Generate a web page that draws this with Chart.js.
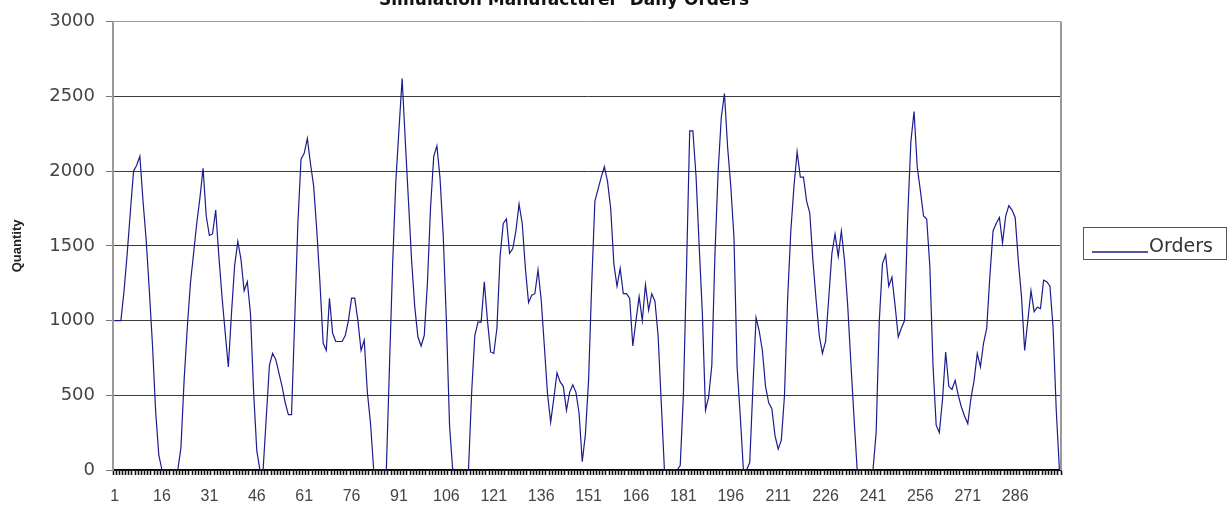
<!DOCTYPE html>
<html>
<head>
<meta charset="utf-8">
<script src="https://cdn.jsdelivr.net/npm/chart.js@4.4.1/dist/chart.umd.min.js"></script>
<style>
  html, body { margin: 0; padding: 0; background: #fff; }
  canvas { display: block; }
</style>
</head>
<body>
<canvas id="ch_orders" width="1231" height="506"></canvas>
<script>
// Daily orders, days 1..300
const orders = [
  1000, 1000, 1000, 1200, 1450, 1730, 2000, 2040, 2100, 1800,
  1540, 1200, 835, 390, 100, 0, 0, 0, 0, 0,
  0, 150, 600, 950, 1250, 1450, 1650, 1820, 2020, 1700,
  1570, 1580, 1740, 1430, 1160, 920, 690, 1050, 1370, 1530,
  1410, 1200, 1260, 1050, 520, 130, 0, 0, 350, 700,
  780, 740, 650, 560, 450, 370, 370, 1000, 1650, 2080,
  2120, 2220, 2050, 1900, 1600, 1250, 850, 800, 1150, 915,
  860, 860, 860, 900, 1000, 1150, 1150, 1000, 800, 870,
  520, 310, 0, 0, 0, 0, 0, 700, 1380, 1930,
  2280, 2620, 2200, 1800, 1400, 1090, 890, 830, 900, 1250,
  1760, 2100, 2170, 1950, 1570, 1000, 300, 0, 0, 0,
  0, 0, 0, 520, 900, 990, 990, 1260, 1000, 790,
  780, 950, 1430, 1650, 1680, 1450, 1480, 1600, 1780, 1650,
  1350, 1120, 1170, 1180, 1340, 1140, 830, 510, 320, 480,
  650, 590, 560, 400, 520, 570, 520, 380, 55, 240,
  600, 1250, 1800, 1880, 1960, 2030, 1930, 1750, 1380, 1230,
  1350, 1180, 1180, 1150, 830, 1000, 1160, 1000, 1240, 1070,
  1180, 1130, 900, 450, 0, 0, 0, 0, 0, 30,
  500, 1350, 2270, 2270, 1970, 1500, 1050, 400, 490, 700,
  1450, 2000, 2360, 2520, 2160, 1900, 1560, 690, 360, 0,
  0, 50, 550, 1020, 930, 800, 560, 450, 410, 230,
  140, 200, 500, 1150, 1600, 1900, 2130, 1960, 1960, 1800,
  1720, 1400, 1140, 900, 780, 860, 1150, 1450, 1580, 1430,
  1600, 1400, 1100, 720, 350, 0, 0, 0, 0, 0,
  0, 250, 1000, 1380, 1440, 1230, 1290, 1100, 890, 950,
  1000, 1700, 2200, 2400, 2030, 1870, 1700, 1680, 1360, 700,
  300, 250, 470, 790, 560, 540, 600, 500, 420, 360,
  310, 480, 600, 780, 690, 850, 950, 1300, 1600, 1650,
  1690, 1520, 1700, 1770, 1740, 1690, 1400, 1160, 800, 1000,
  1200, 1060, 1090, 1080, 1270, 1260, 1230, 950, 400, 0
];
const days = orders.map((_, i) => String(i + 1));
const tickLabels = ['1', '16', '31', '46', '61', '76', '91', '106', '121', '136',
  '151', '166', '181', '196', '211', '226', '241', '256', '271', '286'];
const yTicks = [0, 500, 1000, 1500, 2000, 2500, 3000];

const titleText = 'Simulation Manufacturer  Daily Orders';
const seriesName = 'Orders';
const lineColor = '#1c1c8e';

/* ── title, legend box and right frame drawn on top ─────────────── */
const decor = {
  id: 'decor',
  afterDraw(chart) {
    const { ctx, chartArea: a } = chart;
    ctx.save();
    // right border of plot area
    ctx.strokeStyle = '#9a9a9a';
    ctx.lineWidth = 2;
    ctx.beginPath();
    ctx.moveTo(a.right, a.top);
    ctx.lineTo(a.right, a.bottom);
    ctx.stroke();

    // title (top half is cut off in the original)
    ctx.fillStyle = '#111';
    ctx.font = 'bold 17px "DejaVu Sans"';
    ctx.textAlign = 'center';
    ctx.textBaseline = 'alphabetic';
    ctx.fillText(titleText, 564, 5);

    // legend
    ctx.strokeStyle = '#555';
    ctx.lineWidth = 1;
    ctx.strokeRect(1083.5, 227.5, 143, 32);
    ctx.strokeStyle = lineColor;
    ctx.lineWidth = 1.5;
    ctx.beginPath();
    ctx.moveTo(1092, 252);
    ctx.lineTo(1148, 252);
    ctx.stroke();
    ctx.fillStyle = '#333';
    ctx.font = '19px "DejaVu Sans"';
    ctx.textAlign = 'left';
    ctx.fillText(seriesName, 1149, 252);
    ctx.restore();
  }
};

new Chart(document.getElementById('ch_orders').getContext('2d'), {
  type: 'line',
  data: {
    labels: days,
    datasets: [{
      label: seriesName,
      data: orders,
      borderColor: lineColor,
      borderWidth: 1.2,
      pointRadius: 0,
      tension: 0,
      fill: false
    }]
  },
  options: {
    responsive: false,
    animation: false,
    layout: { padding: { top: 20, right: 170, bottom: 0, left: 0 } },
    plugins: {
      legend: { display: false },
      title: { display: false },
      tooltip: { enabled: false }
    },
    scales: {
      x: {
        type: 'category',
        offset: true,
        afterFit: s => { s.height = 36; },
        grid: {
          offset: true,
          drawOnChartArea: false,
          tickLength: 5,
          tickColor: '#111',
          tickWidth: 1.6
        },
        border: { color: '#000', width: 1.5 },
        ticks: {
          autoSkip: false,
          maxRotation: 0,
          minRotation: 0,
          padding: 12,
          color: '#444',
          font: { family: '"Liberation Sans", Arial', size: 16 },
          callback: (v, i) => tickLabels.includes(days[i]) ? days[i] : ''
        }
      },
      y: {
        min: 0,
        max: 3000,
        afterFit: s => { s.width = 113; },
        afterBuildTicks: s => { s.ticks = yTicks.map(v => ({ value: v })); },
        grid: {
          color: ctx => ctx.tick && ctx.tick.value === 3000 ? '#9a9a9a' : '#3a3a3a',
          lineWidth: 1,
          tickLength: 7,
          tickColor: '#777'
        },
        border: { color: '#9a9a9a', width: 2 },
        ticks: {
          padding: 11,
          color: '#444',
          font: { family: '"DejaVu Sans"', size: 18 },
          callback: v => String(v)
        },
        title: {
          display: true,
          text: 'Quantity',
          color: '#222',
          padding: { top: 10, bottom: 0 },
          font: { family: '"Liberation Sans", Arial', size: 13, weight: 'bold' }
        }
      }
    }
  },
  plugins: [decor]
});
</script>
</body>
</html>
